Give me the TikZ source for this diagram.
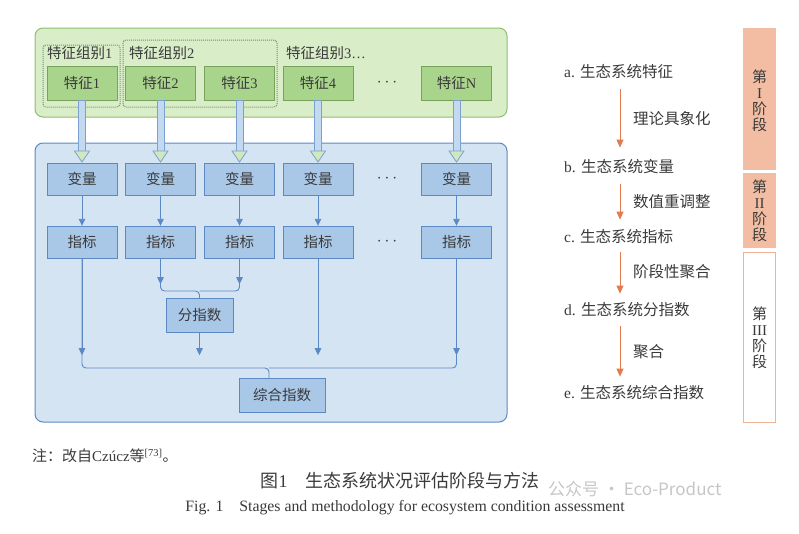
\documentclass[tikz,border=0pt]{standalone}
\usepackage{fontspec}
\setmainfont{Liberation Serif}
\newfontfamily\cjk{Noto Sans CJK SC}
\usetikzlibrary{arrows.meta}
\newcommand{\zh}[1]{{\cjk #1}}
\newcommand{\zihao}[1]{\fontsize{#1pt}{#1pt}\selectfont}

\definecolor{lvdi}{HTML}{D9EDC9}
\definecolor{lvbian}{HTML}{8DBF6C}
\definecolor{lvkuang}{HTML}{A9D48C}
\definecolor{landi}{HTML}{D5E4F2}
\definecolor{lanbian}{HTML}{5B89C4}
\definecolor{lankuang}{HTML}{A9C8E8}
\definecolor{cheng}{HTML}{E27B50}
\definecolor{chengdi}{HTML}{F2BDA3}
\definecolor{wenzi}{HTML}{3A3A3A}

\tikzset{
  tezheng/.style={draw=lvbian!85!black, fill=lvkuang, minimum width=70pt, minimum height=34pt, inner sep=0pt, text=wenzi, font=\zihao{14.5}},
  lanhe/.style={draw=lanbian, fill=lankuang, minimum width=70pt, minimum height=32pt, inner sep=0pt, text=wenzi, font=\zihao{14.5}},
  zubie/.style={densely dotted, draw=gray!80!green, line width=1pt, rounded corners=3pt},
  biaoti/.style={text=wenzi, font=\zihao{14.5}, inner sep=0pt},
  lanxian/.style={lanbian, line width=0.9pt},
  lanjt/.style={lanbian, line width=0.9pt, ->},
  chengjt/.style={cheng, line width=1pt, -{Triangle[length=8pt, width=7pt]}},
  youzi/.style={text=wenzi, font=\zihao{15.5}, inner sep=0pt},
  jieduan/.style={text=wenzi, font=\zihao{15}, align=center, inner sep=0pt},
}

\begin{document}
\begin{tikzpicture}[x=1pt, y=-1pt, >={Triangle[length=7pt, width=6.5pt]}]
  \useasboundingbox (0,0) rectangle (799,533);
  % 两个大框
  \draw[lvbian, line width=1pt, fill=lvdi, rounded corners=8pt] (35,28) rectangle (507,117);
  \draw[lanbian, line width=1pt, fill=landi, rounded corners=8pt] (35,143) rectangle (507,422);
  \draw[zubie] (43,45) rectangle (120,107);
  \draw[zubie] (123,40) rectangle (277,107);
  \node[biaoti, anchor=west] (zb1) at (47,53) {\zh{特征组别}1};
  \node[biaoti, anchor=west] (zb2) at (129,53) {\zh{特征组别}2};
  \node[biaoti, anchor=west] (zb3) at (286,53) {\zh{特征组别}3\ldots};

  \foreach \i/\x/\t in {1/82/1, 2/160.5/2, 3/239.5/3, 4/318/4, n/456.5/N} {
    \node[tezheng] (t\i) at (\x,83) {\zh{特征}\t};
    \node[lanhe] (b\i) at (\x,179) {\zh{变量}};
    \node[lanhe] (z\i) at (\x,242) {\zh{指标}};
    \draw[lanjt] (b\i) -- (z\i);
    \filldraw[draw=lanbian!80, fill=lankuang!70, line width=0.8pt] (\x-3.5,100.5) rectangle (\x+3.5,151);
    \filldraw[draw=lanbian!80, fill=lvdi!80!lvkuang, line width=0.8pt] (\x-7.5,151) -- (\x+7.5,151) -- (\x,162) -- cycle;
  }
  \foreach \y/\n in {83/d1, 179/d2, 242/d3}
    \node[text=wenzi, font=\zihao{17}] (\n) at (387,\y) {$\cdots$};

  \node[lanhe, minimum width=67pt, minimum height=34pt] (fen) at (199.5,315) {\zh{分指数}};
  \node[lanhe, minimum width=86pt, minimum height=34pt] (zong) at (282,395) {\zh{综合指数}};

  % 汇合线
  \coordinate (j1) at (199.5,291);
  \coordinate (j2) at (269,368);
  \draw[lanxian, rounded corners=4pt] (z2.south) |- (j1) -- (fen.north);
  \draw[lanxian, rounded corners=4pt] (z3.south) |- (j1);
  \draw[lanjt] (z2.south) -- ++(0,26);
  \draw[lanjt] (z3.south) -- ++(0,26);
  \draw[lanxian, rounded corners=4pt] (z1.south) |- (j2) -- (j2 |- zong.north);
  \draw[lanxian, rounded corners=4pt] (zn.south) |- (j2);
  \foreach \n in {z1, z4, zn}
    \draw[lanjt] (\n.south) -- ++(0,97);
  \draw[lanjt] (fen.south) -- ++(0,23);

  % 右侧流程
  \node[youzi, anchor=west] (a) at (564,72) {a. \zh{生态系统特征}};
  \node[youzi, anchor=west] (b) at (564,167) {b. \zh{生态系统变量}};
  \node[youzi, anchor=west] (c) at (564,237) {c. \zh{生态系统指标}};
  \node[youzi, anchor=west] (d) at (564,310) {d. \zh{生态系统分指数}};
  \node[youzi, anchor=west] (e) at (564,393) {e. \zh{生态系统综合指数}};
  \coordinate (jx) at (620,0);
  \draw[chengjt, shorten <=10pt, shorten >=12pt] (a.south -| jx) -- (b.north -| jx);
  \draw[chengjt, shorten <=10pt, shorten >=10pt] (b.south -| jx) -- (c.north -| jx);
  \draw[chengjt, shorten <=8pt, shorten >=9pt] (c.south -| jx) -- (d.north -| jx);
  \draw[chengjt, shorten <=9pt, shorten >=9pt] (d.south -| jx) -- (e.north -| jx);
  \node[youzi, anchor=west] (l1) at (633,119) {\zh{理论具象化}};
  \node[youzi, anchor=west] (l2) at (633,202) {\zh{数值重调整}};
  \node[youzi, anchor=west] (l3) at (633,272) {\zh{阶段性聚合}};
  \node[youzi, anchor=west] (l4) at (633,352) {\zh{聚合}};

  % 阶段
  \fill[chengdi] (743,28) rectangle (776,170);
  \fill[chengdi] (743,173) rectangle (776,248);
  \draw[chengdi!85!cheng, fill=white, line width=1pt] (743.5,252.5) rectangle (775.5,422.5);
  \node[jieduan] (s1) at (759.5,101) {\zh{第}\\[1pt]I\\[1pt]\zh{阶}\\[1pt]\zh{段}};
  \node[jieduan] (s2) at (759.5,211) {\zh{第}\\[1pt]II\\[1pt]\zh{阶}\\[1pt]\zh{段}};
  \node[jieduan] (s3) at (759.5,338) {\zh{第}\\[1pt]III\\[1pt]\zh{阶}\\[1pt]\zh{段}};

  % 图注
  \node[text=wenzi, font=\zihao{15}, anchor=west, inner sep=0pt] (zhu) at (32,456) {\zh{注：改自}Cz\'ucz\zh{等}\textsuperscript{[73]}\zh{。}};
  \node[text=wenzi, font=\zihao{18}, inner sep=0pt] (tu) at (400,481) {\zh{图}1\quad\zh{生态系统状况评估阶段与方法}};
  \node[text=wenzi, font=\zihao{15.8}, inner sep=0pt] (fig) at (405,508) {Fig. 1\quad Stages and methodology for ecosystem condition assessment};
  \node[text=gray!45, font=\zihao{17}, anchor=west, inner sep=0pt] (sy) at (548,489) {\zh{公众号 · Eco-Product}};
\end{tikzpicture}
\end{document}
